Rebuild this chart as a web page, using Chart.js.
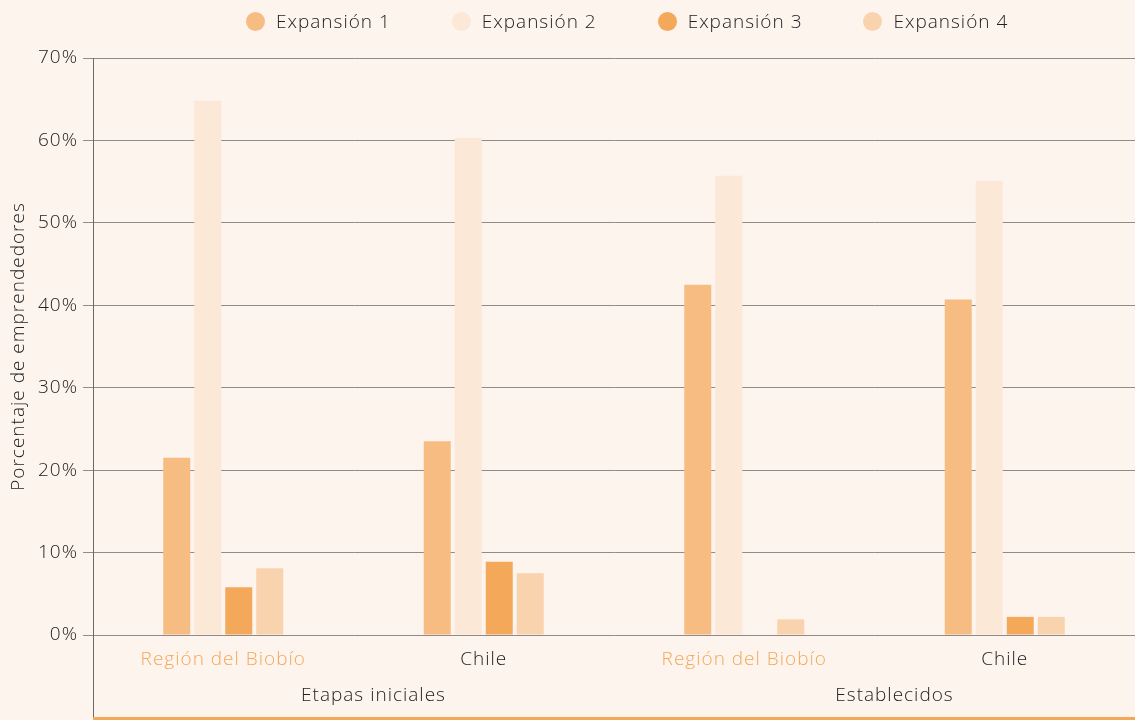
<!DOCTYPE html>
<html>
<head>
<meta charset="utf-8">
<script src="https://cdn.jsdelivr.net/npm/chart.js@4.4.1/dist/chart.umd.min.js"></script>
<style>
    html, body { margin: 0; padding: 0; background: #fdf4ee; }
    #wrap { position: relative; width: 1135px; height: 720px; }
    #legend {
        position: absolute; left: 246px; top: 8px;
        display: flex; gap: 61px;
        font-family: "Open Sans", sans-serif; font-size: 19px; font-weight: 300;
        letter-spacing: 1px; color: #222;
    }
    #legend .item { display: flex; align-items: center; gap: 11px; }
    #legend .dot { width: 19px; height: 19px; border-radius: 50%; }
</style>
</head>
<body>
<div id="wrap">
    <div id="legend"></div>
    <canvas id="chart" width="1135" height="720"></canvas>
</div>
<script>
const categories = ['Región del Biobío', 'Chile', 'Región del Biobío', 'Chile'];
const groups = ['Etapas iniciales', 'Establecidos'];
const seriesNames = ['Expansión 1', 'Expansión 2', 'Expansión 3', 'Expansión 4'];
const expansion1 = [21.5, 23.5, 42.5, 40.7];
const expansion2 = [64.8, 60.3, 55.7, 55.1];
const expansion3 = [5.8, 8.9, 0, 2.2];
const expansion4 = [8.1, 7.5, 1.9, 2.2];
const yTicks = [0, 10, 20, 30, 40, 50, 60, 70];

const colors = ['#f6bc82', '#fbe8d7', '#f4a85a', '#f9d3ae'];
const labelColors = ['#f4a85a', '#222', '#f4a85a', '#222'];
const FONT = '"Open Sans", sans-serif';

// HTML legend built from the series
const legend = document.getElementById('legend');
seriesNames.forEach((name, i) => {
    const item = document.createElement('div');
    item.className = 'item';
    item.innerHTML = `<span class="dot" style="background:${colors[i]}"></span><span>${name}</span>`;
    legend.appendChild(item);
});

// wider letter spacing like the original typeface
const spacing = {
    id: 'spacing',
    beforeInit(chart) { chart.ctx.letterSpacing = '1px'; },
    beforeDraw(chart) { chart.ctx.letterSpacing = '1px'; }
};

// extra drawing: axis line down to the bottom, orange base line, group labels
const extras = {
    id: 'extras',
    afterDraw(chart) {
        const ctx = chart.ctx;
        const area = chart.chartArea;
        const x = chart.scales.x;
        ctx.save();
        ctx.strokeStyle = '#6b6b6b';
        ctx.lineWidth = 1;
        ctx.beginPath();
        ctx.moveTo(area.left + 0.5, area.bottom);
        ctx.lineTo(area.left + 0.5, chart.height);
        ctx.stroke();

        ctx.fillStyle = '#f4a85a';
        ctx.fillRect(area.left, chart.height - 3, area.right - area.left, 3);

        ctx.fillStyle = '#222';
        ctx.font = '300 19px ' + FONT;
        ctx.textAlign = 'center';
        ctx.textBaseline = 'middle';
        groups.forEach((g, i) => {
            const mid = (x.getPixelForValue(i * 2) + x.getPixelForValue(i * 2 + 1)) / 2;
            ctx.fillText(g, mid + 20, 696);
        });
        ctx.restore();
    }
};

new Chart(document.getElementById('chart'), {
    type: 'bar',
    data: {
        labels: categories,
        datasets: [expansion1, expansion2, expansion3, expansion4].map((d, i) => ({
            label: seriesNames[i],
            data: d,
            backgroundColor: colors[i],
            categoryPercentage: 0.476,
            barPercentage: 0.87
        }))
    },
    options: {
        responsive: false,
        animation: false,
        layout: { padding: { top: 58, right: 0, left: 0, bottom: 0 } },
        plugins: {
            legend: { display: false },
            tooltip: { enabled: false }
        },
        scales: {
            x: {
                grid: { display: false, drawTicks: false },
                border: { display: false },
                ticks: {
                    color: (c) => labelColors[c.index],
                    font: { family: FONT, size: 19, weight: 300 },
                    padding: 13,
                    maxRotation: 0
                },
                afterFit: (s) => { s.height = 85; }
            },
            y: {
                min: 0,
                max: 70,
                afterBuildTicks: (s) => { s.ticks = yTicks.map(v => ({ value: v })); },
                grid: { color: '#8c8c8c', lineWidth: 1, tickLength: 10 },
                border: { color: '#6b6b6b' },
                ticks: {
                    color: '#222',
                    font: { family: FONT, size: 19, weight: 300 },
                    padding: 5,
                    callback: (v) => v + '%'
                },
                title: {
                    display: true,
                    text: 'Porcentaje de emprendedores',
                    color: '#222',
                    font: { family: FONT, size: 19, weight: 300 },
                    padding: { top: 7, bottom: 0 }
                },
                afterFit: (s) => { s.width = 93; }
            }
        }
    },
    plugins: [spacing, extras]
});
</script>
</body>
</html>
